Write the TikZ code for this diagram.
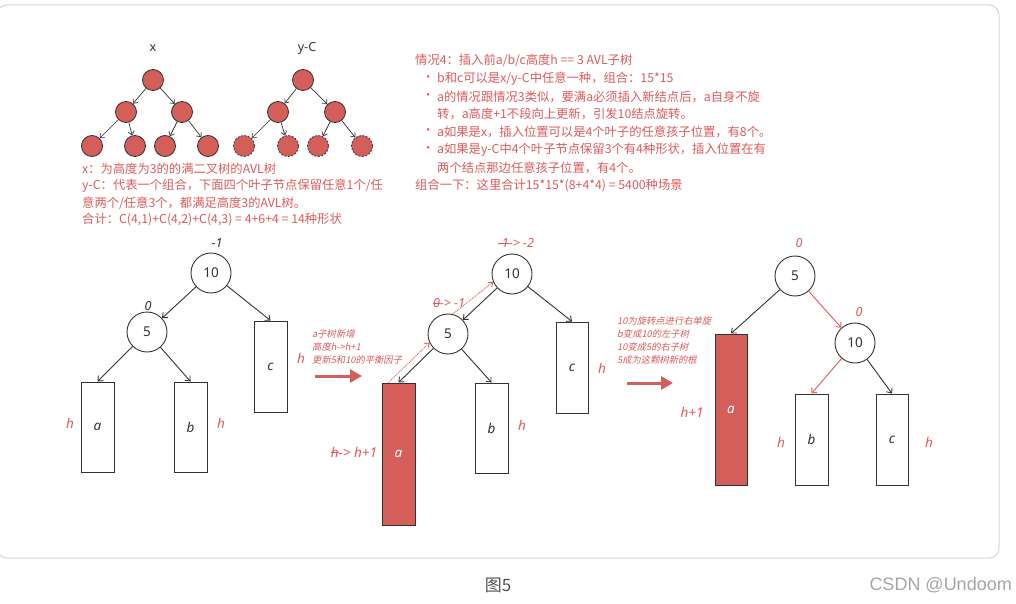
\documentclass[tikz,border=0pt]{standalone}
\usepackage{fontspec}
\setmainfont{Noto Sans}
\newfontfamily\cjk{Noto Sans CJK SC}
\newfontfamily\cjkit{Noto Sans CJK SC}[FakeSlant=0.2]
\newfontfamily\wmfont{Liberation Sans}
\newcommand\mystrike[1]{\setbox0\hbox{#1}\rlap{\rule[0.3em]{\wd0}{0.6pt}}\box0}
\usetikzlibrary{arrows.meta}
\definecolor{redfill}{HTML}{D35E5A}
\definecolor{redtxt}{HTML}{DD5B5B}
\definecolor{ink}{HTML}{333333}
\definecolor{frame}{HTML}{D6D6D6}
\begin{document}
\begin{tikzpicture}[x=1pt,y=-1pt,
  leaf/.style={circle,draw=ink,fill=redfill,minimum size=21pt,inner sep=0pt,line width=0.8pt},
  dleaf/.style={leaf,dash pattern=on 2pt off 1.5pt},
  sarr/.style={draw=ink,line width=0.7pt,-{Straight Barb[length=3.5pt,width=6pt]}},
  barr/.style={draw=ink,line width=0.9pt,-{Straight Barb[length=4pt,width=7pt]}},
  rarr/.style={draw=redtxt,line width=0.9pt,-{Straight Barb[length=4pt,width=7pt]}},
  darr/.style={draw=redtxt,line width=0.9pt,densely dotted,-{Straight Barb[length=3.5pt,width=6pt]}},
  bigarr/.style={draw=redfill,line width=3pt,-{Triangle[length=12pt,width=13pt]}},
  bnode/.style={circle,draw=ink,line width=0.9pt,minimum size=40pt,inner sep=0pt,text=ink,font=\fontsize{13.5}{13.5}\selectfont},
  tbox/.style={draw=ink,line width=1pt,inner sep=0pt,text=ink,font=\itshape\fontsize{13.5}{13.5}\selectfont},
  rbox/.style={tbox,fill=redfill,text=white},
  big/.style={font=\cjk\fontsize{12.3}{12.3}\selectfont,text=redtxt,anchor=west,inner sep=0pt},
  note/.style={font=\cjkit\fontsize{9.3}{9.3}\selectfont,text=redtxt,anchor=west,inner sep=0pt},
  hl/.style={font=\itshape\fontsize{13.5}{13.5}\selectfont,text=redtxt,inner sep=0pt},
  bf/.style={font=\itshape\fontsize{12.5}{12.5}\selectfont,text=ink,inner sep=0pt},
  tl/.style={font=\fontsize{12.5}{12.5}\selectfont,text=ink,inner sep=0pt},
]
\useasboundingbox (0,0) rectangle (1016,604);
\fill[white] (0,0) rectangle (1016,604);
\draw[frame,line width=1pt,rounded corners=10pt] (-3,5) rectangle (999,558);

% ---- top-left trees ----
\node[tl] (lx) at (153,48) {x};
\node[leaf] (x0) at (153,80) {};
\node[leaf] (x1) at (126,112) {};
\node[leaf] (x2) at (182,112) {};
\node[leaf] (x3) at (92,146) {};
\node[leaf] (x4) at (135,146) {};
\node[leaf] (x5) at (165,146) {};
\node[leaf] (x6) at (208,146) {};
\draw[sarr] (x0) -- (x1);
\draw[sarr] (x0) -- (x2);
\draw[sarr] (x1) -- (x3);
\draw[sarr] (x1) -- (x4);
\draw[sarr] (x2) -- (x5);
\draw[sarr] (x2) -- (x6);

\node[tl] (ly) at (307,48) {y-C};
\node[leaf] (y0) at (303,80) {};
\node[leaf] (y1) at (278,112) {};
\node[leaf] (y2) at (335,112) {};
\node[dleaf] (y3) at (244,146) {};
\node[dleaf] (y4) at (288,146) {};
\node[dleaf] (y5) at (318,146) {};
\node[dleaf] (y6) at (362,146) {};
\draw[sarr] (y0) -- (y1);
\draw[sarr] (y0) -- (y2);
\draw[sarr] (y1) -- (y3);
\draw[sarr] (y1) -- (y4);
\draw[sarr] (y2) -- (y5);
\draw[sarr] (y2) -- (y6);

% ---- left text ----
\node[big] (t1) at (82,169) {x：为高度为3的的满二叉树的AVL树};
\node[big] (t2) at (82,186) {y-C：代表一个组合，下面四个叶子节点保留任意1个/任};
\node[big] (t3) at (82,203) {意两个/任意3个，都满足高度3的AVL树。};
\node[big] (t4) at (82,220) {合计：C(4,1)+C(4,2)+C(4,3) = 4+6+4 = 14种形状};

% ---- right text ----
\node[big] (r1) at (415,60) {情况4：插入前a/b/c高度h == 3 AVL子树};
\node[big] (b1) at (422,79) {•};
\node[big] (r2) at (437,79) {b和c可以是x/y-C中任意一种，组合：15*15};
\node[big] (b2) at (422,97) {•};
\node[big] (r3) at (437,97) {a的情况跟情况3类似，要满a必须插入新结点后，a自身不旋};
\node[big] (r4) at (437,114) {转，a高度+1不段向上更新，引发10结点旋转。};
\node[big] (b3) at (422,132) {•};
\node[big] (r5) at (437,132) {a如果是x，插入位置可以是4个叶子的任意孩子位置，有8个。};
\node[big] (b4) at (422,150) {•};
\node[big] (r6) at (437,150) {a如果是y-C中4个叶子节点保留3个有4种形状，插入位置在有};
\node[big] (r7) at (437,168) {两个结点那边任意孩子位置，有4个。};
\node[big] (r8) at (415,186) {组合一下：这里合计15*15*(8+4*4) = 5400种场景};

% ---- tree 1 ----
\node[bf] (f10a) at (217,243) {-1};
\node[bnode] (n10a) at (211,273) {10};
\node[bf] (f5a) at (148,306) {0};
\node[bnode] (n5a) at (147,332) {5};
\node[tbox,minimum width=33pt,minimum height=91pt] (ca) at (270.5,366.5) {c};
\node[tbox,minimum width=33pt,minimum height=90pt] (aa) at (97.5,427) {a};
\node[tbox,minimum width=33pt,minimum height=90pt] (ba) at (190.5,427) {b};
\node[hl] (hca) at (301,358) {h};
\node[hl] (haa) at (70,423) {h};
\node[hl] (hba) at (221,423) {h};
\draw[barr] (n10a) -- (n5a);
\draw[barr] (n10a) -- (ca.north);
\draw[barr] (n5a) -- (aa.north);
\draw[barr] (n5a) -- (ba.north);

% arrow 1
\node[note] (m1) at (312,334) {a子树新增};
\node[note] (m2) at (312,347) {高度h->h+1};
\node[note] (m3) at (312,360) {更新5和10的平衡因子};
\coordinate (p1s) at (315,376);
\coordinate (p1e) at (362,376);
\draw[bigarr] (p1s) -- (p1e);

% ---- tree 2 ----
\node[hl,font=\itshape\fontsize{12.5}{12.5}\selectfont] (f10b) at (516,243) {\mystrike{-1} -> -2};
\node[bnode] (n10b) at (512,274) {10};
\node[hl,font=\itshape\fontsize{12.5}{12.5}\selectfont] (f5b) at (449,303) {\mystrike{0} -> -1};
\node[bnode] (n5b) at (448,334) {5};
\node[tbox,minimum width=32pt,minimum height=91pt] (cb) at (572,367.5) {c};
\node[rbox,minimum width=33pt,minimum height=142pt] (ab) at (398.5,454) {a};
\node[tbox,minimum width=33pt,minimum height=90pt] (bb) at (491.5,428) {b};
\node[hl] (hcb) at (602,368) {h};
\node[hl] (hbb) at (522,425) {h};
\node[hl] (hab) at (354,452) {\mystrike{h} -> h+1};
\draw[barr] (n10b) -- (n5b);
\draw[barr] (n10b) -- (cb.north);
\draw[barr] (n5b) -- (ab.north);
\draw[barr] (n5b) -- (bb.north);
\draw[darr] ([xshift=7pt]ab.north west) -- (n5b.205);
\draw[darr] (n5b.77) -- (n10b.203);

% arrow 2
\node[note] (q1) at (617,321) {10为旋转点进行右单旋};
\node[note] (q2) at (617,334) {b变成10的左子树};
\node[note] (q3) at (617,347) {10变成5的右子树};
\node[note] (q4) at (617,360) {5成为这颗树新的根};
\coordinate (p2s) at (627,383);
\coordinate (p2e) at (673,383);
\draw[bigarr] (p2s) -- (p2e);

% ---- tree 3 ----
\node[hl,font=\itshape\fontsize{12.5}{12.5}\selectfont] (f5c) at (799,243) {0};
\node[bnode] (n5c) at (795,276) {5};
\node[hl,font=\itshape\fontsize{12.5}{12.5}\selectfont] (f10c) at (859,312) {0};
\node[bnode] (n10c) at (855,343) {10};
\node[rbox,minimum width=32pt,minimum height=151pt] (ac) at (731,409.5) {a};
\node[tbox,minimum width=33pt,minimum height=91pt] (bc) at (811.5,439.5) {b};
\node[tbox,minimum width=32pt,minimum height=91pt] (cc) at (892,439.5) {c};
\node[hl] (hac) at (692,412) {h+1};
\node[hl] (hbc) at (781,442) {h};
\node[hl] (hcc) at (929,442) {h};
\draw[barr] (n5c) -- (ac.north);
\draw[rarr] (n5c) -- (n10c);
\draw[rarr] (n10c) -- (bc.north);
\draw[barr] (n10c) -- (cc.north);

% ---- caption ----
\node[font=\cjk\fontsize{17}{17}\selectfont,text=ink!85,inner sep=0pt] (cap) at (498,585) {图5};
\node[font=\wmfont\fontsize{18}{18}\selectfont,text=black!35,inner sep=0pt,anchor=east] (wm) at (1012,585) {CSDN @Undoom};
\end{tikzpicture}
\end{document}
